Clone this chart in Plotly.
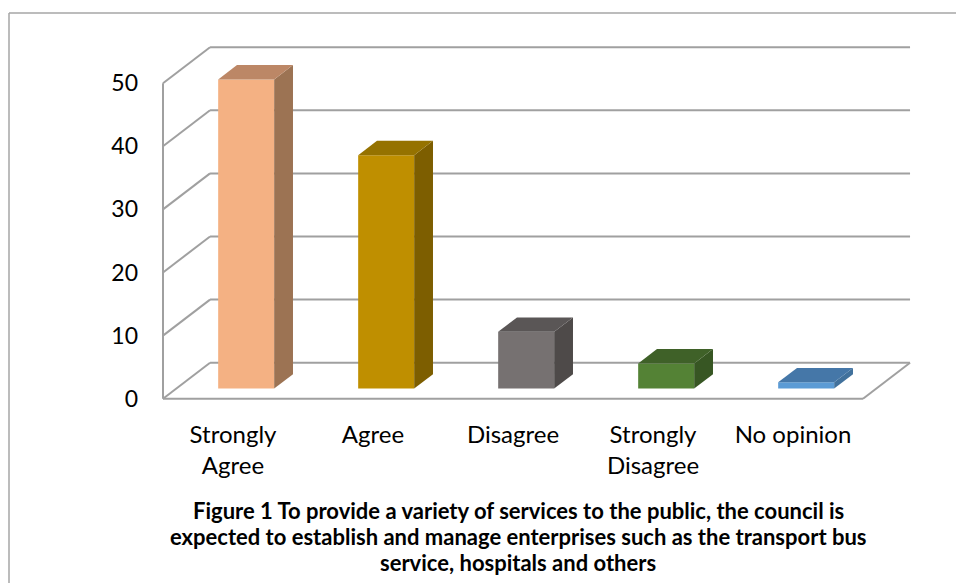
import plotly.graph_objects as go

# Survey responses
categories = ["Strongly<br>Agree", "Agree", "Disagree", "Strongly<br>Disagree", "No opinion"]
values = [49, 37, 9, 4, 1]
y_ticks = [0, 10, 20, 30, 40, 50]

front_colors = ["#F4B183", "#BF8F00", "#767171", "#548235", "#5B9BD5"]
side_colors = ["#9C7353", "#7D5E00", "#4E4A49", "#375623", "#41719C"]
top_colors = ["#BC8766", "#957200", "#5A5656", "#3F6128", "#4577A8"]

caption_lines = [
    "Figure 1 To provide a variety of services to the public, the council is",
    "expected to establish and manage enterprises such as the transport bus",
    "service, hospitals and others",
]

# 3-D look: depth of the box expressed in axis units
DX = 0.336      # horizontal shift of the back wall (category units)
DY = 5.7        # vertical shift of the back wall (value units)
F0, F1 = 0.28, 0.68   # front / back of each column as a fraction of depth
HALF = 0.2            # half column width

W, H = 956, 583
ML, MR, MT, MB = 156, 37, 39, 178
X_RANGE = [-0.55, 4.9]
Y_RANGE = [-1, 57]

n = len(categories)
x_left, x_right = -0.5, n - 0.5
y_top = y_ticks[-1]

grid = dict(color="#A0A0A0", width=2)
shapes = []
# back wall gridlines
for v in y_ticks:
    shapes.append(dict(type="line", xref="x", yref="y", layer="below",
                       x0=x_left + DX, x1=x_right + DX, y0=v + DY, y1=v + DY, line=grid))
# side wall: diagonals and front edge
for v in y_ticks:
    shapes.append(dict(type="line", xref="x", yref="y", layer="below",
                       x0=x_left, x1=x_left + DX, y0=v, y1=v + DY, line=grid))
shapes.append(dict(type="line", xref="x", yref="y", layer="below",
                   x0=x_left, x1=x_left, y0=0, y1=y_top, line=grid))
# floor: front edge and right edge
shapes.append(dict(type="line", xref="x", yref="y", layer="below",
                   x0=x_left, x1=x_right, y0=0, y1=0, line=grid))
shapes.append(dict(type="line", xref="x", yref="y", layer="below",
                   x0=x_right, x1=x_right + DX, y0=0, y1=DY, line=grid))

# chart-area frame
pw, ph = W - ML - MR, H - MT - MB
def px_x(p):
    return (p - ML) / pw
def px_y(p):
    return 1 - (p - MT) / ph
frame = dict(color="#A6A6A6", width=1.5)
shapes.append(dict(type="line", xref="paper", yref="paper", x0=px_x(9), x1=px_x(W + 5),
                   y0=px_y(13), y1=px_y(13), line=frame))
shapes.append(dict(type="line", xref="paper", yref="paper", x0=px_x(9), x1=px_x(9),
                   y0=px_y(13), y1=px_y(H + 5), line=frame))

fig = go.Figure()

xs = list(range(n))
# front faces of the columns
fig.add_trace(go.Bar(
    x=xs, y=values, base=[F0 * DY] * n, width=2 * HALF, offset=-HALF + F0 * DX,
    marker=dict(color=front_colors, line=dict(width=0)),
    hoverinfo="skip", showlegend=False,
))

# side and top faces
for i, v in enumerate(values):
    xl, xr = i - HALF, i + HALF
    side_x = [xr + F0 * DX, xr + F0 * DX, xr + F1 * DX, xr + F1 * DX, xr + F0 * DX]
    side_y = [F0 * DY, v + F0 * DY, v + F1 * DY, F1 * DY, F0 * DY]
    fig.add_trace(go.Scatter(x=side_x, y=side_y, fill="toself", mode="lines",
                             fillcolor=side_colors[i], line=dict(width=0, color=side_colors[i]),
                             hoverinfo="skip", showlegend=False))
    top_x = [xl + F0 * DX, xr + F0 * DX, xr + F1 * DX, xl + F1 * DX, xl + F0 * DX]
    top_y = [v + F0 * DY, v + F0 * DY, v + F1 * DY, v + F1 * DY, v + F0 * DY]
    fig.add_trace(go.Scatter(x=top_x, y=top_y, fill="toself", mode="lines",
                             fillcolor=top_colors[i], line=dict(width=0, color=top_colors[i]),
                             hoverinfo="skip", showlegend=False))

FONT = "Lato, Carlito, Calibri, sans-serif"
tick_font = dict(family=FONT, size=23, color="#000000")
cat_font = dict(family=FONT, size=24, color="#000000")

# caption, one annotation per line
annotations = []
for k, line in enumerate(caption_lines):
    annotations.append(dict(text=line, xref="paper", yref="paper",
                            x=px_x(518), y=px_y(510 + 26 * k),
                            xanchor="center", yanchor="middle",
                            showarrow=False,
                            font=dict(family=FONT, size=22, color="#000000", weight="bold")))

fig.update_layout(
    width=W, height=H,
    margin=dict(l=ML, r=MR, t=MT, b=MB, autoexpand=False),
    paper_bgcolor="white", plot_bgcolor="white",
    shapes=shapes,
    xaxis=dict(range=X_RANGE, tickmode="array", tickvals=xs, ticktext=categories,
               showgrid=False, zeroline=False, showline=False, ticks="",
               tickfont=cat_font, ticklabelstandoff=13, fixedrange=True),
    yaxis=dict(range=Y_RANGE, tickmode="array", tickvals=y_ticks,
               ticktext=[str(t) for t in y_ticks],
               showgrid=False, zeroline=False, showline=False, ticks="",
               tickfont=tick_font, ticklabelstandoff=17, fixedrange=True),
    annotations=annotations,
)

fig.write_html("out.html")
